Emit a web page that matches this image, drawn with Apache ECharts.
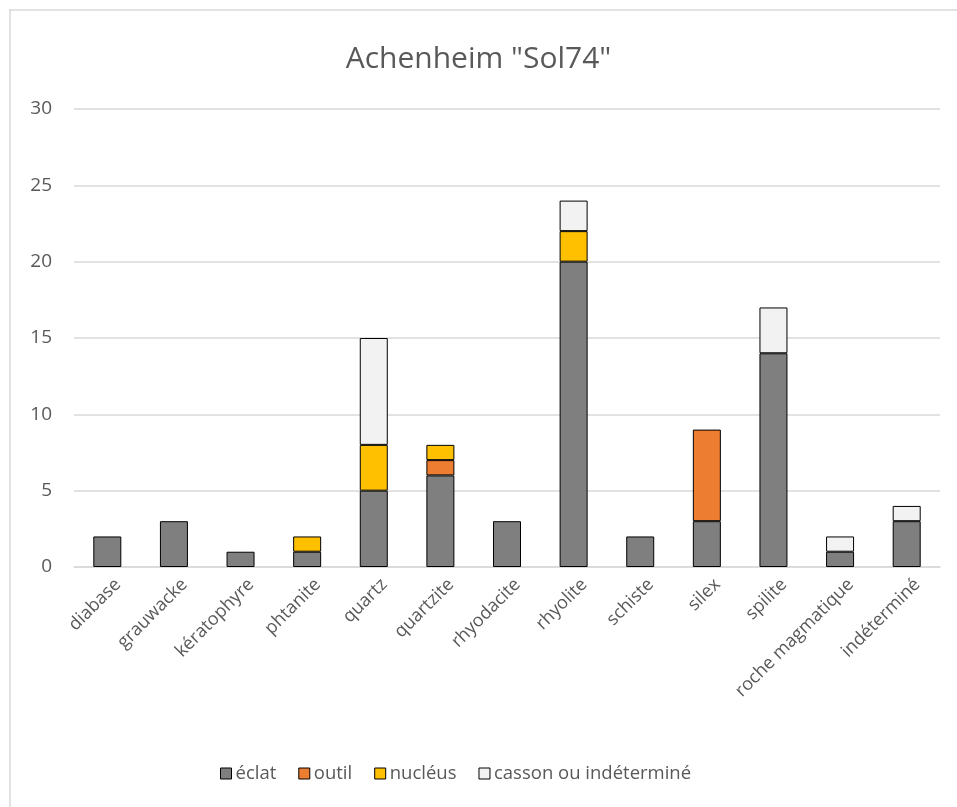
<!DOCTYPE html>
<html><head><meta charset="utf-8">
<script src="https://cdn.jsdelivr.net/npm/echarts@6/dist/echarts.min.js"></script>
<style>html,body{margin:0;padding:0;background:#fff}#c{width:957px;height:807px}</style>
</head><body><div id="c"></div>
<script>
const categories = ['diabase','grauwacke','kératophyre','phtanite','quartz','quartzite','rhyodacite','rhyolite','schiste','silex','spilite','roche magmatique','indéterminé'];
const eclat   = [2,3,1,1,5,6,3,20,2,3,14,1,3];
const outil   = [0,0,0,0,0,1,0,0,0,6,0,0,0];
const nucleus = [0,0,0,1,3,1,0,2,0,0,0,0,0];
const casson  = [0,0,0,0,7,0,0,2,0,0,3,1,1];
const seriesNames = ['éclat','outil','nucléus','casson ou indéterminé'];
const seriesColors = ['#7f7f7f','#ed7d31','#ffc000','#f2f2f2'];
const yTicks = [0,5,10,15,20,25,30];

const font = '"Open Sans", "Noto Sans", sans-serif';
const chart = echarts.init(document.getElementById('c'), null, {renderer:'canvas'});
const mk = (name, data, i) => ({
  name, type:'bar', stack:'s', data: data.map(v => v === 0 ? null : v), barWidth: 28,
  itemStyle:{color:seriesColors[i], borderColor:'#000', borderWidth:1},
  emphasis:{disabled:true}
});
chart.setOption({
  animation:false,
  textStyle:{fontFamily:font},
  title:{text:'Achenheim "Sol74"', left:'center', top:39,
    textStyle:{fontSize:30, fontWeight:'normal', color:'#595959', fontFamily:font}},
  grid:{left:74, right:17, top:109, bottom:240, containLabel:false},
  legend:{bottom:19, left:215, itemWidth:11, itemHeight:11, itemGap:22,
    icon:'rect',
    textStyle:{fontSize:18.5, color:'#595959', fontFamily:font, padding:[0,0,0,-1]},
    data: seriesNames.map((n,i)=>({name:n, itemStyle:{color:seriesColors[i], borderColor:'#000', borderWidth:1}}))},
  xAxis:{type:'category', data:categories,
    axisLine:{lineStyle:{color:'#d9d9d9', width:1.5}}, axisTick:{show:false},
    axisLabel:{rotate:45, color:'#595959', fontSize:18, margin:4, interval:0, fontFamily:font,
      verticalAlign:'top', padding:[6,0,0,0]}},
  yAxis:{type:'value', min:0, max:30, interval:5,
    axisLine:{show:false}, axisTick:{show:false},
    splitLine:{lineStyle:{color:'#d9d9d9', width:1.5}},
    axisLabel:{color:'#595959', fontSize:19, margin:22, fontFamily:font,
      formatter: v => yTicks.includes(v) ? String(v) : ''}},
  graphic:[
    {type:'line', shape:{x1:9, y1:10, x2:957, y2:10}, style:{stroke:'#d9d9d9', lineWidth:1.5}},
    {type:'line', shape:{x1:10, y1:9, x2:10, y2:807}, style:{stroke:'#d9d9d9', lineWidth:1.5}}
  ],
  series:[mk(seriesNames[0],eclat,0), mk(seriesNames[1],outil,1), mk(seriesNames[2],nucleus,2), mk(seriesNames[3],casson,3)]
});
</script></body></html>
